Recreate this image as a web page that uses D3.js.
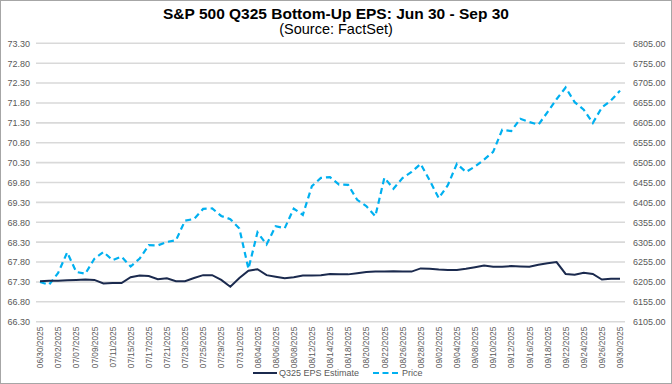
<!DOCTYPE html>
<html>
<head>
<meta charset="utf-8">
<script src="https://cdn.jsdelivr.net/npm/d3@7"></script>
<style>
  body { margin: 0; background: #fff; }
  text { font-family: "Liberation Sans", Arial, sans-serif; }
</style>
</head>
<body>
<svg id="chart" width="672" height="384"></svg>
<script>
// trading days shown on the chart
var dates = ["06/30/2025","07/01/2025","07/02/2025","07/03/2025","07/07/2025","07/08/2025","07/09/2025","07/10/2025","07/11/2025",
  "07/14/2025","07/15/2025","07/16/2025","07/17/2025","07/18/2025","07/21/2025","07/22/2025","07/23/2025","07/24/2025","07/25/2025",
  "07/28/2025","07/29/2025","07/30/2025","07/31/2025","08/01/2025","08/04/2025","08/05/2025","08/06/2025","08/07/2025","08/08/2025",
  "08/11/2025","08/12/2025","08/13/2025","08/14/2025","08/15/2025","08/18/2025","08/19/2025","08/20/2025","08/21/2025","08/22/2025",
  "08/25/2025","08/26/2025","08/27/2025","08/28/2025","08/29/2025","09/02/2025","09/03/2025","09/04/2025","09/05/2025","09/08/2025",
  "09/09/2025","09/10/2025","09/11/2025","09/12/2025","09/15/2025","09/16/2025","09/17/2025","09/18/2025","09/19/2025","09/22/2025",
  "09/23/2025","09/24/2025","09/25/2025","09/26/2025","09/29/2025","09/30/2025"];

var epsEstimate = [67.32,67.33,67.33,67.34,67.35,67.36,67.35,67.26,67.27,67.27,67.42,67.46,67.45,67.37,67.39,67.32,67.32,67.40,67.47,
  67.47,67.35,67.18,67.40,67.58,67.62,67.47,67.43,67.39,67.42,67.46,67.46,67.47,67.50,67.49,67.49,67.52,67.55,67.56,67.56,
  67.57,67.56,67.56,67.64,67.63,67.61,67.60,67.60,67.63,67.67,67.71,67.68,67.68,67.70,67.69,67.68,67.73,67.77,67.80,67.50,
  67.48,67.53,67.50,67.36,67.38,67.38];

var price = [6204.95,6198.01,6227.42,6279.35,6229.98,6225.52,6263.26,6280.46,6259.75,6268.56,6243.76,6263.70,6297.36,6296.79,
  6305.60,6309.62,6358.91,6363.35,6388.64,6389.77,6370.86,6362.90,6339.39,6238.01,6329.94,6299.19,6345.06,6340.00,6389.45,
  6373.45,6445.76,6466.58,6468.54,6449.80,6449.15,6411.37,6395.78,6370.17,6466.91,6439.32,6465.94,6481.40,6501.86,6460.26,
  6415.54,6448.26,6502.08,6481.50,6495.15,6512.61,6532.04,6587.47,6584.29,6615.28,6606.76,6600.35,6631.96,6664.36,6693.75,
  6656.92,6637.97,6604.72,6643.70,6661.21,6686.00];

var leftTicks = d3.range(15).map(function(i) { return 66.3 + i * 0.5; });
var rightTicks = d3.range(15).map(function(i) { return 6105 + i * 50; });

var svg = d3.select("#chart");
var W = 672, H = 384;
var plotLeft = 36, plotRight = 625, plotTop = 43.3, plotBottom = 321.7;

var x = d3.scalePoint().domain(dates).range([40, 620]);
var yL = d3.scaleLinear().domain([66.3, 73.3]).range([plotBottom, plotTop]);
var yR = d3.scaleLinear().domain([6105, 6805]).range([plotBottom, plotTop]);

// outer frame
svg.append("rect")
  .attr("x", 0.5).attr("y", 0.5)
  .attr("width", W - 1).attr("height", H - 1)
  .attr("fill", "#fff")
  .attr("stroke", "#a6a6a6");

// title
svg.append("text")
  .attr("x", 336).attr("y", 19)
  .attr("text-anchor", "middle")
  .attr("font-size", 15.5).attr("font-weight", "bold")
  .attr("fill", "#000")
  .text("S&P 500 Q325 Bottom-Up EPS: Jun 30 - Sep 30");
svg.append("text")
  .attr("x", 336).attr("y", 34)
  .attr("text-anchor", "middle")
  .attr("font-size", 14.5)
  .attr("fill", "#000")
  .text("(Source: FactSet)");

// grid
svg.append("g")
  .selectAll("line")
  .data(leftTicks)
  .enter().append("line")
  .attr("x1", plotLeft).attr("x2", plotRight)
  .attr("y1", function(d) { return yL(d); })
  .attr("y2", function(d) { return yL(d); })
  .attr("stroke", "#d9d9d9")
  .attr("stroke-width", 1.6);

// left axis
var axL = svg.append("g")
  .attr("transform", "translate(30,0)")
  .call(d3.axisLeft(yL).tickValues(leftTicks).tickSize(0).tickPadding(0).tickFormat(d3.format(".2f")));
axL.select(".domain").remove();
axL.selectAll("text").attr("font-size", 9).attr("fill", "#595959").attr("font-family", "Liberation Sans, Arial, sans-serif");

// right axis
var axR = svg.append("g")
  .attr("transform", "translate(633,0)")
  .call(d3.axisRight(yR).tickValues(rightTicks).tickSize(0).tickPadding(0).tickFormat(d3.format(".2f")));
axR.select(".domain").remove();
axR.selectAll("text").attr("font-size", 9).attr("fill", "#595959").attr("font-family", "Liberation Sans, Arial, sans-serif");

// x axis labels, every other trading day
var shown = dates.filter(function(d, i) { return i % 2 === 0; });
var axX = svg.append("g")
  .attr("transform", "translate(0," + (plotBottom + 5) + ")")
  .call(d3.axisBottom(x).tickValues(shown).tickSize(0).tickPadding(0));
axX.select(".domain").remove();
axX.selectAll("text")
  .attr("font-size", 8.3)
  .attr("fill", "#595959")
  .attr("font-family", "Liberation Sans, Arial, sans-serif")
  .attr("text-anchor", "end")
  .attr("dy", "0.32em")
  .attr("transform", "rotate(-90)")
  .attr("x", 0).attr("y", 0);

// series
var epsLine = d3.line()
  .x(function(d, i) { return x(dates[i]); })
  .y(function(d) { return yL(d); });
var priceLine = d3.line()
  .x(function(d, i) { return x(dates[i]); })
  .y(function(d) { return yR(d); });

svg.append("path")
  .datum(price)
  .attr("d", priceLine)
  .attr("fill", "none")
  .attr("stroke", "#00b0f0")
  .attr("stroke-width", 2.2)
  .attr("stroke-dasharray", "6,4");

svg.append("path")
  .datum(epsEstimate)
  .attr("d", epsLine)
  .attr("fill", "none")
  .attr("stroke", "#1b2a4e")
  .attr("stroke-width", 2);

// legend
var legend = svg.append("g").attr("transform", "translate(0,373)");
legend.append("line")
  .attr("x1", 253).attr("x2", 277).attr("y1", 0).attr("y2", 0)
  .attr("stroke", "#1b2a4e").attr("stroke-width", 2);
legend.append("text")
  .attr("x", 279).attr("y", 3.3)
  .attr("font-size", 9).attr("fill", "#595959")
  .text("Q325 EPS Estimate");
legend.append("line")
  .attr("x1", 373).attr("x2", 398).attr("y1", 0).attr("y2", 0)
  .attr("stroke", "#00b0f0").attr("stroke-width", 2.2)
  .attr("stroke-dasharray", "6,3.5");
legend.append("text")
  .attr("x", 402).attr("y", 3.3)
  .attr("font-size", 9).attr("fill", "#595959")
  .text("Price");
</script>
</body>
</html>
